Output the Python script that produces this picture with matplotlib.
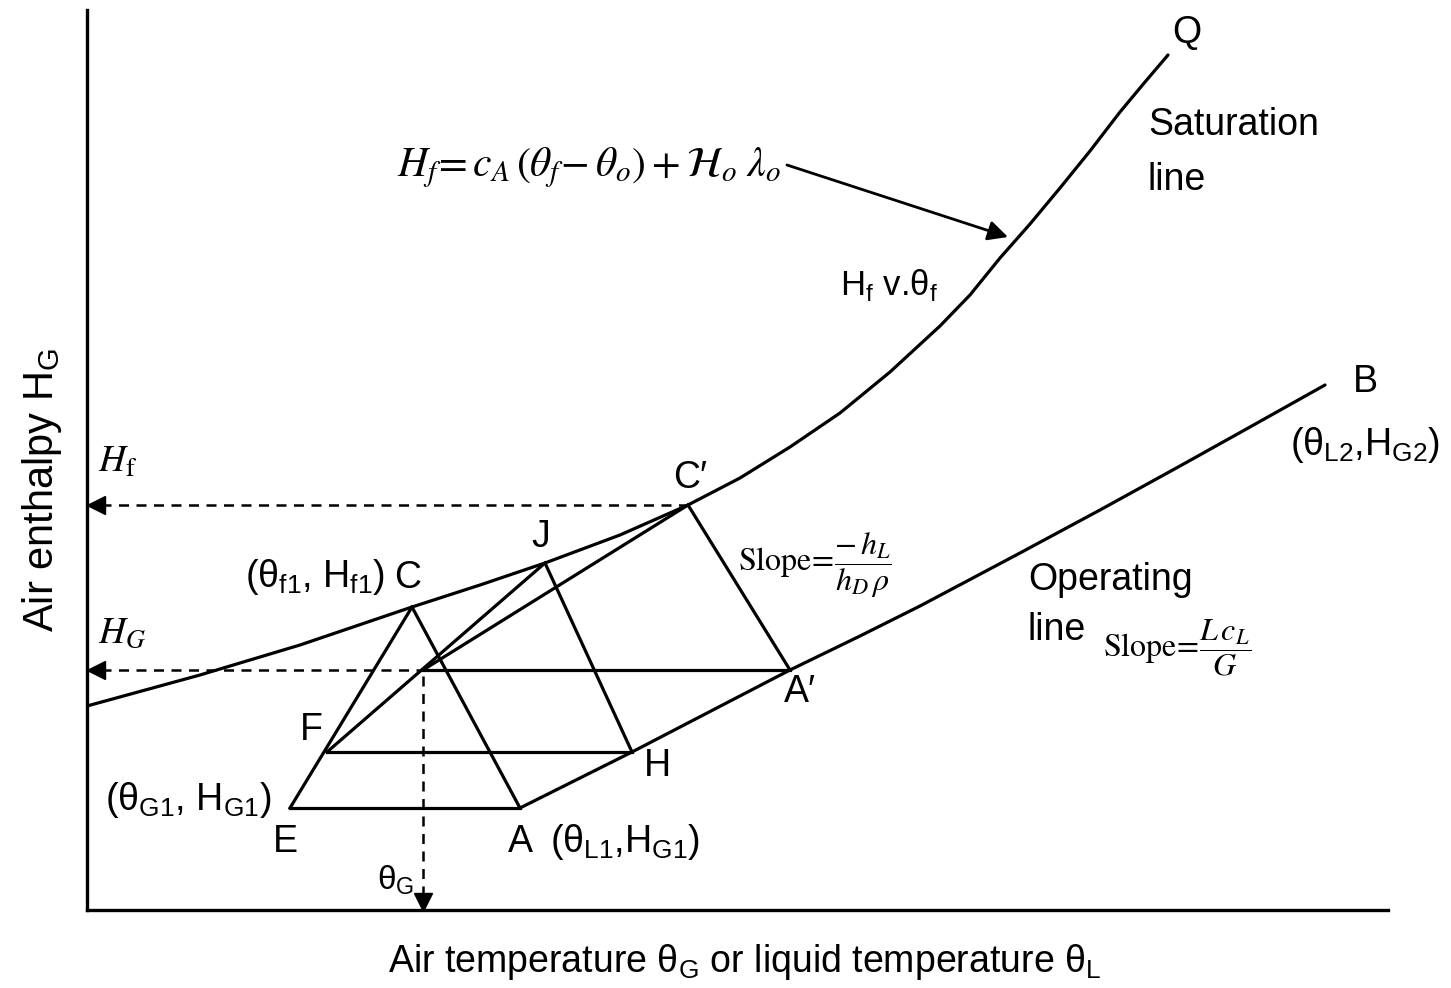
import matplotlib
matplotlib.use("Agg")
from matplotlib import pyplot

# saturation line H_f v. theta_f (arbitrary units)
sat_theta = [0, 113, 213, 325, 393, 458, 533, 601, 653, 703, 753, 803, 853,
             883, 913, 943, 973, 1003, 1033, 1058, 1081]
sat_H = [204, 235, 265, 303, 325, 347, 375, 405, 432, 463, 497, 538, 584,
         615, 652, 686, 722, 759, 798, 828, 855]

# operating line from A to B
op_theta = [433, 545, 703, 773, 833, 933, 1013, 1093, 1163, 1238]
op_H = [102, 158, 240, 274, 304, 357, 400, 444, 483, 525]

# construction points
point_names = ["E", "A", "C", "F", "H", "G", "J", "C'", "A'"]
point_theta = [203, 433, 325, 240, 545, 336, 458, 601, 703]
point_H = [102, 102, 303, 158, 158, 240, 347, 405, 240]

# solid construction segments
segments = [("E", "A"), ("E", "C"), ("C", "A"), ("F", "H"), ("F", "J"),
            ("G", "C'"), ("J", "H"), ("C'", "A'"), ("G", "A'")]

BLACK = "black"
SANS = ["Liberation Sans Narrow", "Liberation Sans", "DejaVu Sans"]
LW = 2.3

pt = {n: (t, h) for n, t, h in zip(point_names, point_theta, point_H)}

figure = pyplot.figure(figsize=(14.51, 9.88), dpi=100)
figure.set_facecolor("white")
axis = figure.add_axes([87 / 1451, 78 / 988, 1301 / 1451, 900 / 988])
axis.set_xlim(0, 1301)
axis.set_ylim(0, 900)
axis.spines["right"].set_visible(False)
axis.spines["top"].set_visible(False)
axis.spines["left"].set_linewidth(2.4)
axis.spines["bottom"].set_linewidth(2.4)
axis.set_xticks([])
axis.set_yticks([])

axis.plot(sat_theta, sat_H, color=BLACK, lw=LW, solid_capstyle="round",
          solid_joinstyle="round")
axis.plot(op_theta, op_H, color=BLACK, lw=LW, solid_capstyle="round",
          solid_joinstyle="round")

for a, b in segments:
    axis.plot([pt[a][0], pt[b][0]], [pt[a][1], pt[b][1]], color=BLACK, lw=LW)

# dashed projections to the axes
gx, gy = pt["G"]
cx, cy = pt["C'"]
axis.plot([14, cx], [cy, cy], color=BLACK, lw=1.8, ls=(0, (4, 3)))
axis.plot([14, gx], [gy, gy], color=BLACK, lw=1.8, ls=(0, (4, 3)))
axis.plot([gx, gx], [14, gy], color=BLACK, lw=1.8, ls=(0, (4, 3)))
axis.plot([9], [cy], marker="<", ms=13, color=BLACK, clip_on=False)
axis.plot([9], [gy], marker="<", ms=13, color=BLACK, clip_on=False)
axis.plot([gx], [8], marker="v", ms=13, color=BLACK, clip_on=False)

# equation with arrow pointing at the saturation line
axis.annotate("", xy=(921, 673), xytext=(700, 745),
              arrowprops=dict(arrowstyle="-|>", color=BLACK, lw=2.0,
                              mutation_scale=30, shrinkA=0, shrinkB=0))
axis.text(310, 742, r"$H_f\!=c_A\,(\theta_f\!-\theta_o)+\mathcal{H}_o\;\lambda_o$",
          fontsize=30, math_fontfamily="stix", ha="left", va="center")


def label(x, y, s, size=27, ha="center"):
    axis.text(x, y, s, fontsize=size, family=SANS, ha=ha, va="center")


label(753, 625, r"H$_\mathregular{f}$ v.θ$_\mathregular{f}$", size=25, ha="left")
label(1100, 877, "Q")
label(1061, 785, "Saturation", ha="left")
label(1061, 730, "line", ha="left")
label(1278, 528, "B")
label(1203, 465, r"(θ$_\mathregular{L2}$,H$_\mathregular{G2}$)", ha="left")
label(603, 432, "C′")
label(454, 373, "J")
label(158, 333, r"(θ$_\mathregular{f1}$, H$_\mathregular{f1}$)", ha="left")
label(321, 332, "C")
label(941, 330, "Operating", ha="left")
label(941, 280, "line", ha="left")
label(713, 218, "A′")
label(224, 180, "F")
label(570, 144, "H")
label(18, 110, r"(θ$_\mathregular{G1}$, H$_\mathregular{G1}$)", ha="left")
label(198, 68, "E")
label(433, 68, "A")
label(463, 68, r"(θ$_\mathregular{L1}$,H$_\mathregular{G1}$)", ha="left")
label(290, 30, r"θ$_\mathregular{G}$", size=24, ha="left")

axis.text(11, 448, r"$H_\mathrm{f}$", fontsize=27, math_fontfamily="stix",
          ha="left", va="center")
axis.text(11, 277, r"$H_G$", fontsize=27, math_fontfamily="stix",
          ha="left", va="center")
axis.text(651, 345, r"$\mathrm{Slope}\!=\!\dfrac{-\,h_L}{h_D\,\rho}$",
          fontsize=23, math_fontfamily="stix", ha="left", va="center")
axis.text(1016, 262, r"$\mathrm{Slope}\!=\!\dfrac{L\,c_L}{G}$",
          fontsize=23, math_fontfamily="stix", ha="left", va="center")

figure.text(745 / 1451, 1 - 962 / 988,
            r"Air temperature θ$_\mathregular{G}$ or liquid temperature θ$_\mathregular{L}$",
            fontsize=27, family=SANS, ha="center", va="center")
figure.text(42 / 1451, 1 - 490 / 988, r"Air enthalpy H$_\mathregular{G}$",
            fontsize=30, family=SANS, ha="center", va="center", rotation=90)

figure.savefig("out.png", dpi=100)
